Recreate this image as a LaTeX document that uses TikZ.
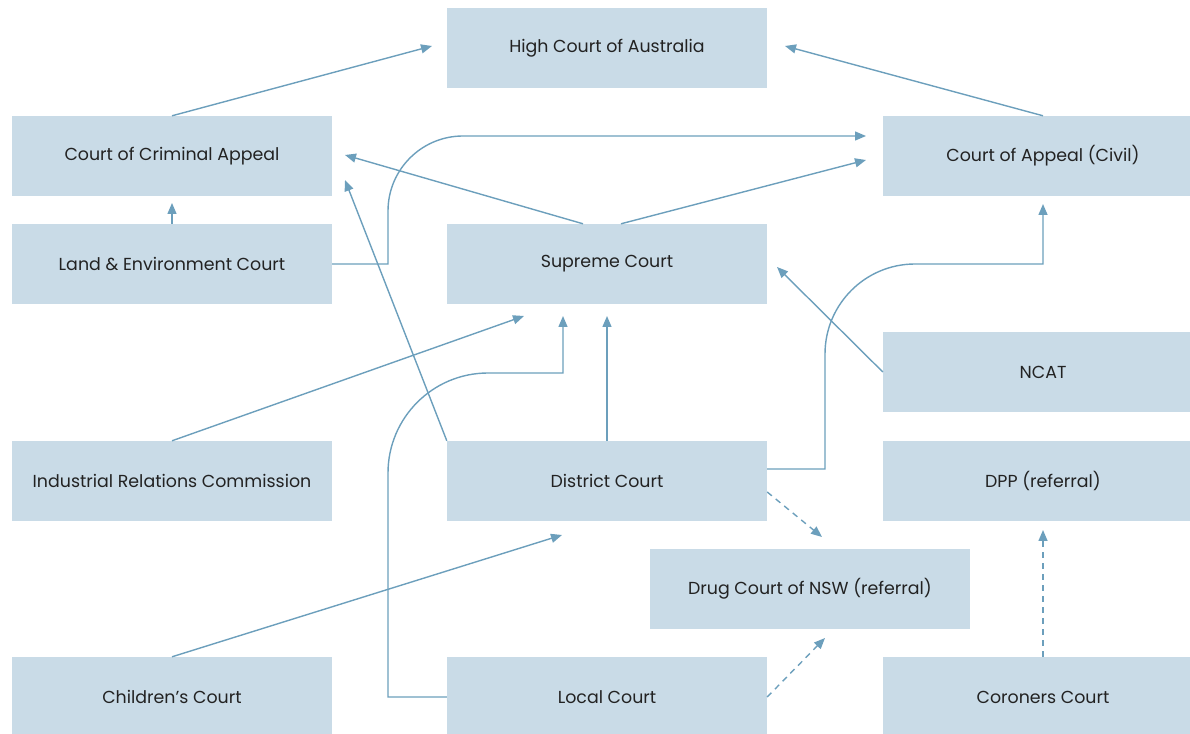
\documentclass[tikz,border=0pt]{standalone}
\usepackage{fontspec}
\setmainfont{Poppins}
\usetikzlibrary{arrows.meta}
\definecolor{boxfill}{HTML}{C9DBE7}
\definecolor{linec}{HTML}{6C9FBC}
\definecolor{txt}{HTML}{222222}
\begin{document}
\begin{tikzpicture}[x=1pt,y=1pt,
  court/.style={fill=boxfill,draw=none,minimum width=320pt,minimum height=80pt,inner sep=0pt,text=txt,font=\fontsize{17.4}{20}\selectfont},
  arr/.style={draw=linec,line width=1.4pt,-{Triangle[length=11pt,width=9pt]}},
  darr/.style={arr,dash pattern=on 6pt off 5pt}]
\useasboundingbox (0,0) rectangle (1190,733);
% boxes
\node[court] (hca) at (607,685) {High Court of Australia};
\node[court] (cca) at (172,577) {Court of Criminal Appeal};
\node[court] (coa) at (1043,577) {Court of Appeal (Civil)};
\node[court] (lec) at (172,469) {Land \& Environment Court};
\node[court] (sc) at (607,469) {Supreme Court};
\node[court] (ncat) at (1043,361) {NCAT};
\node[court] (irc) at (172,252) {Industrial Relations Commission};
\node[court] (dc) at (607,252) {District Court};
\node[court] (dpp) at (1043,252) {DPP (referral)};
\node[court] (drug) at (810,144) {Drug Court of NSW (referral)};
\node[court] (chc) at (172,36) {Children’s Court};
\node[court] (lc) at (607,36) {Local Court};
\node[court] (cor) at (1043,36) {Coroners Court};
% arrow tips
\coordinate (tHcaL) at (432,687);
\coordinate (tHcaR) at (785,687);
\coordinate (tCcaB) at (172,530);
\coordinate (tCcaR) at (345,578);
\coordinate (tCcaR2) at (345,553);
\coordinate (tCoaL) at (866,597);
\coordinate (tCoaL2) at (866,573);
\coordinate (tCoaB) at (1043,529);
\coordinate (tScA) at (524,417);
\coordinate (tScB) at (563,417);
\coordinate (tScC) at (607,417);
\coordinate (tScR) at (777,466);
\coordinate (tDcB) at (562,198);
\coordinate (tDrugT) at (822,196);
\coordinate (tDrugB) at (825,95);
\coordinate (tDppB) at (1043,203);
% connectors
\draw[arr] (cca.north) -- (tHcaL);
\draw[arr] (coa.north) -- (tHcaR);
\draw[arr] (lec.north) -- (tCcaB);
\draw[arr] (lec.east) -- (388,469) -- (388,522) arc[start angle=180,end angle=90,radius=75] -- (tCoaL);
\draw[arr] ([xshift=-24pt]sc.north) -- (tCcaR);
\draw[arr] ([xshift=14pt]sc.north) -- (tCoaL2);
\draw[arr] (dc.north west) -- (tCcaR2);
\draw[arr] (irc.north) -- (tScA);
\draw[arr] (dc.north) -- (tScC);
\draw[arr] (lc.west) -- (388,36) -- (388,260) arc[start angle=180,end angle=90,radius=100] -- (563,360) -- (tScB);
\draw[arr] (ncat.west) -- (tScR);
\draw[arr] ([yshift=12pt]dc.east) -- (825,264) -- (825,379) arc[start angle=180,end angle=90,radius=90] -- (1043,469) -- (tCoaB);
\draw[darr] ([yshift=-11pt]dc.east) -- (tDrugT);
\draw[darr] (lc.east) -- (tDrugB);
\draw[darr] (cor.north) -- (tDppB);
\draw[arr] (chc.north) -- (tDcB);
\end{tikzpicture}
\end{document}
